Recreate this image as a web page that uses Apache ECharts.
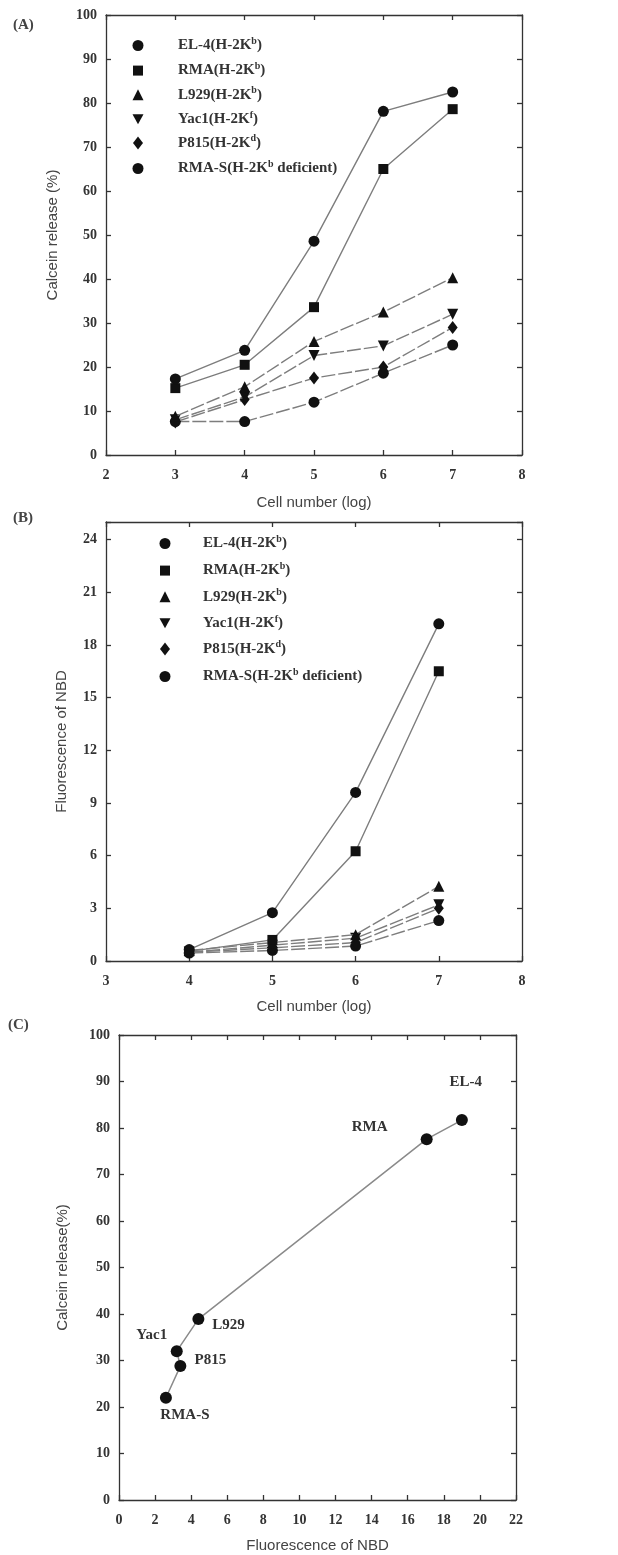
<!DOCTYPE html>
<html><head><meta charset="utf-8">
<script src="https://cdn.jsdelivr.net/npm/echarts@6/dist/echarts.min.js"></script>
<style>html,body{margin:0;padding:0;background:#fff}#c{width:618px;height:1555px}</style>
</head><body><div id="c"></div>
<script>
// ---------- data ----------
const cellLines = ['EL-4', 'RMA', 'L929', 'Yac1', 'P815', 'RMA-S'];
const haplotypes = ['b', 'b', 'b', 'f', 'd', 'b'];
const suffixes = ['', '', '', '', '', ' deficient'];

// Panel A: calcein release (%) vs log cell number
const logCellsA = [3, 4, 5, 6, 7];
const calceinEL4 = [17.3, 23.8, 48.6, 78.1, 82.5];
const calceinRMA = [15.2, 20.5, 33.6, 65.0, 78.6];
const calceinL929 = [8.8, 15.5, 25.8, 32.5, 40.3];
const calceinYac1 = [8.0, 13.2, 22.6, 24.8, 32.0];
const calceinP815 = [7.5, 12.6, 17.5, 20.0, 29.0];
const calceinRMAS = [7.6, 7.6, 12.0, 18.6, 25.0];

// Panel B: fluorescence of NBD vs log cell number
const logCellsB = [4, 5, 6, 7];
const nbdEL4 = [0.65, 2.75, 9.6, 19.2];
const nbdRMA = [0.55, 1.2, 6.25, 16.5];
const nbdL929 = [0.6, 1.05, 1.5, 4.25];
const nbdYac1 = [0.5, 0.9, 1.3, 3.2];
const nbdP815 = [0.5, 0.75, 1.05, 3.0];
const nbdRMAS = [0.45, 0.6, 0.85, 2.3];

// Panel C: calcein release vs NBD fluorescence
const corrNames = ['RMA-S', 'P815', 'Yac1', 'L929', 'RMA', 'EL-4'];
const corrNBD = [2.6, 3.4, 3.2, 4.4, 17.05, 19.0];
const corrCalcein = [22.0, 28.8, 32.0, 38.9, 77.6, 81.7];

// ---------- styling ----------
const calceinSets = [calceinEL4, calceinRMA, calceinL929, calceinYac1, calceinP815, calceinRMAS];
const nbdSets = [nbdEL4, nbdRMA, nbdL929, nbdYac1, nbdP815, nbdRMAS];
const downTri = 'path://M0,0 L10,0 L5,9 Z';
const symbols = ['circle', 'rect', 'triangle', downTri, 'diamond', 'circle'];
const symSizes = [11, 10, 11, 11, [10, 13], 11];
const legendSizes = [[11, 11], [10, 10], [11, 11], [11, 11], [10, 13], [11, 11]];
const lineTypes = ['solid', 'solid', [14, 3], [14, 3], [14, 3], [14, 3]];

const frame = { color: '#333', width: 1.3 };
const serif = 'Liberation Serif';
const sans = 'Liberation Sans';
const tickLabel = { fontFamily: serif, fontSize: 14, fontWeight: 'bold', color: '#333' };
const titleStyle = { fontFamily: sans, fontSize: 15, color: '#444' };

function xPair(gi, min, max, interval, name, nameGap) {
  return [
    { type: 'value', gridIndex: gi, min, max, interval, position: 'bottom',
      name, nameLocation: 'middle', nameGap, nameTextStyle: titleStyle,
      axisLine: { show: true, onZero: false, lineStyle: frame },
      axisTick: { show: true, inside: true, length: 5, lineStyle: frame },
      axisLabel: Object.assign({ margin: 13 }, tickLabel),
      splitLine: { show: false } },
    { type: 'value', gridIndex: gi, min, max, interval, position: 'top',
      axisLine: { show: true, onZero: false, lineStyle: frame },
      axisTick: { show: true, inside: true, length: 5, lineStyle: frame },
      axisLabel: { show: false }, splitLine: { show: false } }
  ];
}
function yPair(gi, min, max, interval, name, nameGap) {
  return [
    { type: 'value', gridIndex: gi, min, max, interval, position: 'left',
      name, nameLocation: 'middle', nameGap, nameTextStyle: titleStyle,
      axisLine: { show: true, onZero: false, lineStyle: frame },
      axisTick: { show: true, inside: true, length: 5, lineStyle: frame },
      axisLabel: Object.assign({ margin: 9, formatter: v => (Math.abs(v / interval - Math.round(v / interval)) < 1e-6 ? String(v) : '') }, tickLabel),
      splitLine: { show: false } },
    { type: 'value', gridIndex: gi, min, max, interval, position: 'right',
      axisLine: { show: true, onZero: false, lineStyle: frame },
      axisTick: { show: true, inside: true, length: 5, lineStyle: frame },
      axisLabel: { show: false }, splitLine: { show: false } }
  ];
}

function legendName(i, panel) { return cellLines[i] + '(H-2K' + haplotypes[i] + suffixes[i] + ')' + panel; }

const series = [];
for (let i = 0; i < cellLines.length; i++) {
  series.push({
    type: 'line', name: legendName(i, 'A'), xAxisIndex: 0, yAxisIndex: 0,
    data: logCellsA.map((x, k) => [x, calceinSets[i][k]]),
    symbol: symbols[i], symbolSize: symSizes[i], z: 3 + (6 - i),
    itemStyle: { color: '#111' },
    lineStyle: { color: '#7d7d7d', width: 1.4, type: lineTypes[i] }
  });
}
for (let i = 0; i < cellLines.length; i++) {
  series.push({
    type: 'line', name: legendName(i, 'B'), xAxisIndex: 2, yAxisIndex: 2,
    data: logCellsB.map((x, k) => [x, nbdSets[i][k]]),
    symbol: symbols[i], symbolSize: symSizes[i], z: 3 + (6 - i),
    itemStyle: { color: '#111' },
    lineStyle: { color: '#7d7d7d', width: 1.4, type: lineTypes[i] }
  });
}
const labelOffsets = {
  'RMA-S': [19, 17], 'P815': [30, -6], 'Yac1': [-25, -16],
  'L929': [30, 6], 'RMA': [-57, -12], 'EL-4': [4, -38]
};
series.push({
  type: 'line', name: 'corr', xAxisIndex: 4, yAxisIndex: 4,
  data: corrNames.map((n, k) => ({ name: n, value: [corrNBD[k], corrCalcein[k]],
    label: { offset: labelOffsets[n] } })),
  symbol: 'circle', symbolSize: 12,
  itemStyle: { color: '#111' },
  lineStyle: { color: '#8a8a8a', width: 1.5 },
  label: { show: true, position: 'inside', formatter: p => p.name,
    fontFamily: serif, fontSize: 15, fontWeight: 'bold', color: '#333' }
});

// one legend per row so each icon keeps its own aspect ratio
function legendFor(panel, iconCx, top, step, textX) {
  return cellLines.map((c, i) => {
    const w = legendSizes[i][0], h = legendSizes[i][1];
    return {
      orient: 'vertical', left: iconCx - w / 2, top: top + i * step - h / 2,
      itemWidth: w, itemHeight: h, selectedMode: false,
      data: [{ name: legendName(i, panel), icon: symbols[i] }],
      formatter: () => '{p| }{m|' + cellLines[i] + '(H-2K}{s|' + haplotypes[i] + '}{m|' + suffixes[i] + ')}',
      textStyle: { fontFamily: serif, fontWeight: 'bold', color: '#333', fontSize: 15,
        rich: {
          p: { width: textX - (iconCx + w / 2 + 5), fontSize: 15, lineHeight: 18 },
          m: { fontFamily: serif, fontWeight: 'bold', fontSize: 15, color: '#333', lineHeight: 18 },
          s: { fontFamily: serif, fontWeight: 'bold', fontSize: 10, color: '#333', lineHeight: 10, verticalAlign: 'top' }
        } }
    };
  });
}

const option = {
  animation: false,
  backgroundColor: '#fff',
  grid: [
    { left: 106, top: 15, width: 416, height: 440 },
    { left: 106, top: 522, width: 416, height: 439 },
    { left: 119, top: 1035, width: 397, height: 465 }
  ],
  xAxis: [].concat(
    xPair(0, 2, 8, 1, 'Cell number (log)', 40),
    xPair(1, 3, 8, 1, 'Cell number (log)', 38),
    xPair(2, 0, 22, 2, 'Fluorescence of NBD', 38)
  ),
  yAxis: [].concat(
    yPair(0, 0, 100, 10, 'Calcein release (%)', 46),
    yPair(1, 0, 25, 3, 'Fluorescence of NBD', 37),
    yPair(2, 0, 100, 10, 'Calcein release(%)', 49)
  ),
  legend: [].concat(
    legendFor('A', 133, 37, 24.6, 173),
    legendFor('B', 160, 535, 26.6, 198)
  ),
  graphic: [
    { type: 'text', left: 13, top: 18, style: { text: '(A)', font: 'bold 15px "Liberation Serif"', fill: '#444' } },
    { type: 'text', left: 13, top: 511, style: { text: '(B)', font: 'bold 15px "Liberation Serif"', fill: '#444' } },
    { type: 'text', left: 8, top: 1018, style: { text: '(C)', font: 'bold 15px "Liberation Serif"', fill: '#444' } }
  ],
  series
};
const chart = echarts.init(document.getElementById('c'), null, { renderer: 'canvas' });
chart.setOption(option);
</script>
</body></html>
